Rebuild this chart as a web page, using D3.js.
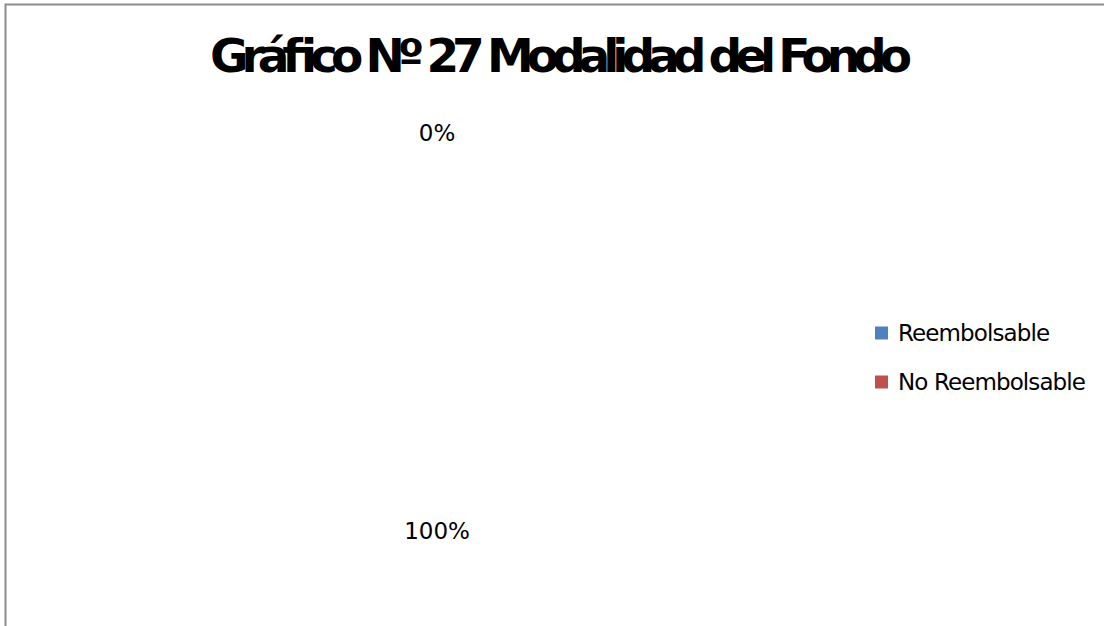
<!DOCTYPE html>
<html>
<head>
<meta charset="utf-8">
<script src="https://cdn.jsdelivr.net/npm/d3@7"></script>
<style>
  html, body { margin: 0; padding: 0; background: #fff; }
  svg { display: block; }
</style>
</head>
<body>
<div id="chart-container"></div>
<script>
const categories = ["Reembolsable", "No Reembolsable"];
const values = [0, 100];
const colors = ["#4F81BD", "#C0504D"];
const title = "Gráfico Nº 27 Modalidad del Fondo";

const width = 1104;
const height = 626;
const cx = 437;
const cy = 332;
const radius = 175;
const labelRadius = 199;

const svg = d3.select("#chart-container").append("svg")
    .attr("width", width)
    .attr("height", height)
    .style("font-family", "'DejaVu Sans', sans-serif");

// chart area frame (only top and left edges fall inside the window)
svg.append("rect")
    .attr("x", 5.5)
    .attr("y", 4.5)
    .attr("width", width + 10)
    .attr("height", height + 10)
    .attr("fill", "#fff")
    .attr("stroke", "#8c8c8c")
    .attr("stroke-width", 2);

svg.append("text")
    .attr("x", 561)
    .attr("y", 72)
    .attr("text-anchor", "middle")
    .attr("font-size", 47)
    .attr("font-weight", "bold")
    .attr("textLength", 702)
    .attr("lengthAdjust", "spacing")
    .text(title);

const data = categories.map((c, i) => ({ name: c, value: values[i], color: colors[i] }));
const pie = d3.pie().sort(null).value(d => d.value);
const arcs = pie(data);

const arc = d3.arc().innerRadius(0).outerRadius(radius);
const labelArc = d3.arc().innerRadius(labelRadius).outerRadius(labelRadius);

const g = svg.append("g").attr("transform", `translate(${cx},${cy})`);

// slices rendered without visible fill in the source picture
g.selectAll("path")
    .data(arcs)
    .join("path")
    .attr("d", arc)
    .attr("fill", "#fff")
    .attr("stroke", "none");

const total = d3.sum(values);
g.selectAll("text")
    .data(arcs)
    .join("text")
    .attr("transform", d => `translate(${labelArc.centroid(d)})`)
    .attr("text-anchor", "middle")
    .attr("dominant-baseline", "central")
    .attr("font-size", 23)
    .attr("fill", "#000")
    .text(d => d3.format(".0%")(d.data.value / total));

// legend
const legend = svg.append("g").attr("transform", "translate(875,333)");
const item = legend.selectAll("g")
    .data(data)
    .join("g")
    .attr("transform", (d, i) => `translate(0,${i * 49})`);

item.append("rect")
    .attr("x", 0)
    .attr("y", -6.5)
    .attr("width", 13)
    .attr("height", 13)
    .attr("fill", d => d.color);

item.append("text")
    .attr("x", 23)
    .attr("y", 0)
    .attr("dominant-baseline", "central")
    .attr("font-size", 23)
    .attr("letter-spacing", -0.9)
    .attr("fill", "#000")
    .text(d => d.name);
</script>
</body>
</html>
